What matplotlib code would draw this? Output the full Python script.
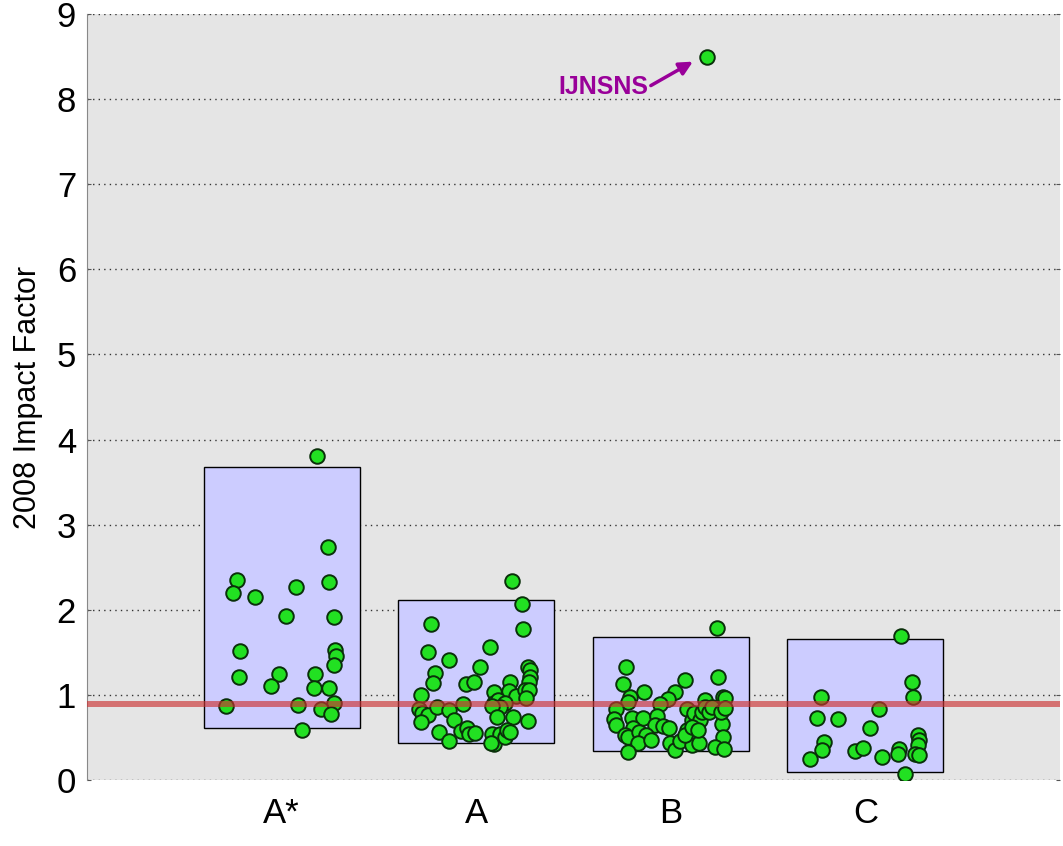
import matplotlib
matplotlib.use("Agg")
import matplotlib.pyplot as plt

categories = ["A*", "A", "B", "C"]

# box extents per category (low, high)
box_low = [0.61, 0.435, 0.34, 0.094]
box_high = [3.68, 2.115, 1.68, 1.66]

threshold = 0.89

# jittered journal points: x position, impact factor
astar_x = [1.183, 1.237, 0.771, 0.752, 0.862, 1.072, 1.242, 1.023, 1.269, 0.788, 1.273, 1.278, 1.268,
           0.779, 0.985, 0.947, 1.173, 1.168, 1.244, 0.714, 1.086, 1.269, 1.204, 1.255, 1.103]
astar_y = [3.81, 2.74, 2.35, 2.20, 2.15, 2.27, 2.33, 1.93, 1.915, 1.52, 1.53, 1.46, 1.355,
           1.21, 1.24, 1.11, 1.24, 1.08, 1.085, 0.87, 0.88, 0.91, 0.83, 0.78, 0.59]

a_x = [2.184, 2.237, 2.240, 1.769, 1.752, 1.860, 2.073, 2.021, 1.788, 1.780, 1.948, 1.987, 1.716,
       2.268, 2.277, 2.278, 2.270, 2.175, 2.169, 2.090, 2.205, 2.251, 2.271, 2.256, 1.708, 1.722,
       1.754, 1.715, 1.799, 1.860, 1.886, 1.931, 1.807, 1.860, 1.920, 1.954, 1.961, 1.992, 2.090,
       2.110, 2.146, 2.122, 2.081, 2.108, 2.189, 2.265, 2.080, 2.091, 2.122, 2.150, 2.158, 2.174, 2.076]
a_y = [2.335, 2.065, 1.78, 1.833, 1.504, 1.406, 1.559, 1.328, 1.254, 1.136, 1.125, 1.152, 0.999,
       1.324, 1.293, 1.207, 1.155, 1.152, 1.05, 1.034, 0.987, 1.054, 1.058, 0.96, 0.834, 0.783,
       0.764, 0.678, 0.861, 0.823, 0.701, 0.893, 0.560, 0.454, 0.58, 0.611, 0.54, 0.548, 0.901,
       0.94, 0.909, 0.858, 0.87, 0.744, 0.744, 0.697, 0.54, 0.42, 0.537, 0.509, 0.588, 0.564, 0.431]

b_x = [3.239, 2.771, 2.754, 2.861, 3.073, 3.243, 3.023, 2.986, 2.946, 2.790, 2.780, 2.717, 3.270,
       3.277, 3.176, 3.085, 2.710, 2.717, 2.799, 2.859, 2.929, 2.917, 2.960, 2.991, 2.807, 2.766,
       2.779, 2.837, 2.871, 2.833, 2.900, 2.782, 2.997, 3.022, 3.047, 3.082, 3.107, 3.119, 3.150,
       3.159, 3.176, 3.197, 3.210, 3.107, 3.145, 3.073, 3.265, 3.267, 3.227, 3.275, 3.258, 3.279,
       3.107, 3.138]
b_y = [1.782, 1.328, 1.132, 1.034, 1.175, 1.214, 1.034, 0.948, 0.893, 0.972, 0.917, 0.834, 0.979,
       0.96, 0.94, 0.838, 0.717, 0.646, 0.729, 0.725, 0.752, 0.646, 0.635, 0.607, 0.607, 0.529,
       0.509, 0.568, 0.529, 0.431, 0.47, 0.333, 0.431, 0.353, 0.458, 0.588, 0.705, 0.783, 0.705,
       0.803, 0.861, 0.803, 0.861, 0.411, 0.431, 0.529, 0.658, 0.502, 0.384, 0.36, 0.803, 0.842,
       0.627, 0.588]

c_x = [4.183, 4.238, 4.243, 3.770, 4.073, 3.753, 3.861, 4.022, 3.789, 3.779, 3.715, 3.948, 3.986,
       4.087, 4.174, 4.170, 4.269, 4.274, 4.269, 4.255, 4.277, 4.203]
c_y = [1.696, 1.152, 0.972, 0.975, 0.838, 0.732, 0.72, 0.615, 0.447, 0.353, 0.243, 0.341, 0.372,
       0.266, 0.36, 0.305, 0.529, 0.47, 0.411, 0.305, 0.294, 0.074]

outlier_x = 3.186
outlier_y = 8.5
outlier_name = "IJNSNS"

fnt = ["Liberation Sans", "DejaVu Sans"]

fig = plt.figure(figsize=(10.63, 8.46), dpi=100)
ax = fig.add_axes([0.082, 0.078, 0.915, 0.9055])
ax.set_facecolor("#e5e5e5")

for i in range(len(categories)):
    pos = i + 1
    ax.bar(pos, box_high[i] - box_low[i], bottom=box_low[i], width=0.8,
           color="#ccccff", edgecolor="black", linewidth=1.0, zorder=2)

xs = astar_x + a_x + b_x + c_x + [outlier_x]
ys = astar_y + a_y + b_y + c_y + [outlier_y]
ax.scatter(xs, ys, s=110, color="#22e022", edgecolors="#0a300a", linewidths=1.4, zorder=3)

ax.axhline(threshold, color="#cc3333", alpha=0.65, linewidth=4.3, zorder=4)

ax.annotate(outlier_name, xy=(3.114, 8.44), xytext=(2.652, 8.14),
            ha="center", va="center", fontsize=18, fontweight="bold", color="#990099",
            family=fnt,
            arrowprops=dict(arrowstyle="-|>", color="#990099", lw=2.5, mutation_scale=20,
                            shrinkA=0, shrinkB=0, relpos=(1.0, 0.5)))

ax.set_xlim(0, 5)
ax.set_ylim(0, 9)
ax.set_yticks(range(0, 10))
ax.set_xticks([1, 2, 3, 4])
ax.set_xticklabels(categories)
ax.yaxis.grid(True, linestyle=(0, (1, 3)), color="#333333", linewidth=1.0)
ax.set_axisbelow(True)

for lab in ax.get_yticklabels() + ax.get_xticklabels():
    lab.set_fontsize(25)
    lab.set_family(fnt)
ax.tick_params(axis="y", direction="in", length=3, right=True, color="#555555", pad=8)
ax.tick_params(axis="x", length=0, pad=12)

for side in ["top", "right", "bottom"]:
    ax.spines[side].set_visible(False)
ax.spines["left"].set_color("#888888")

ax.set_ylabel("2008 Impact Factor", fontsize=22, family=fnt, labelpad=10)

fig.savefig("out.png", dpi=100)
